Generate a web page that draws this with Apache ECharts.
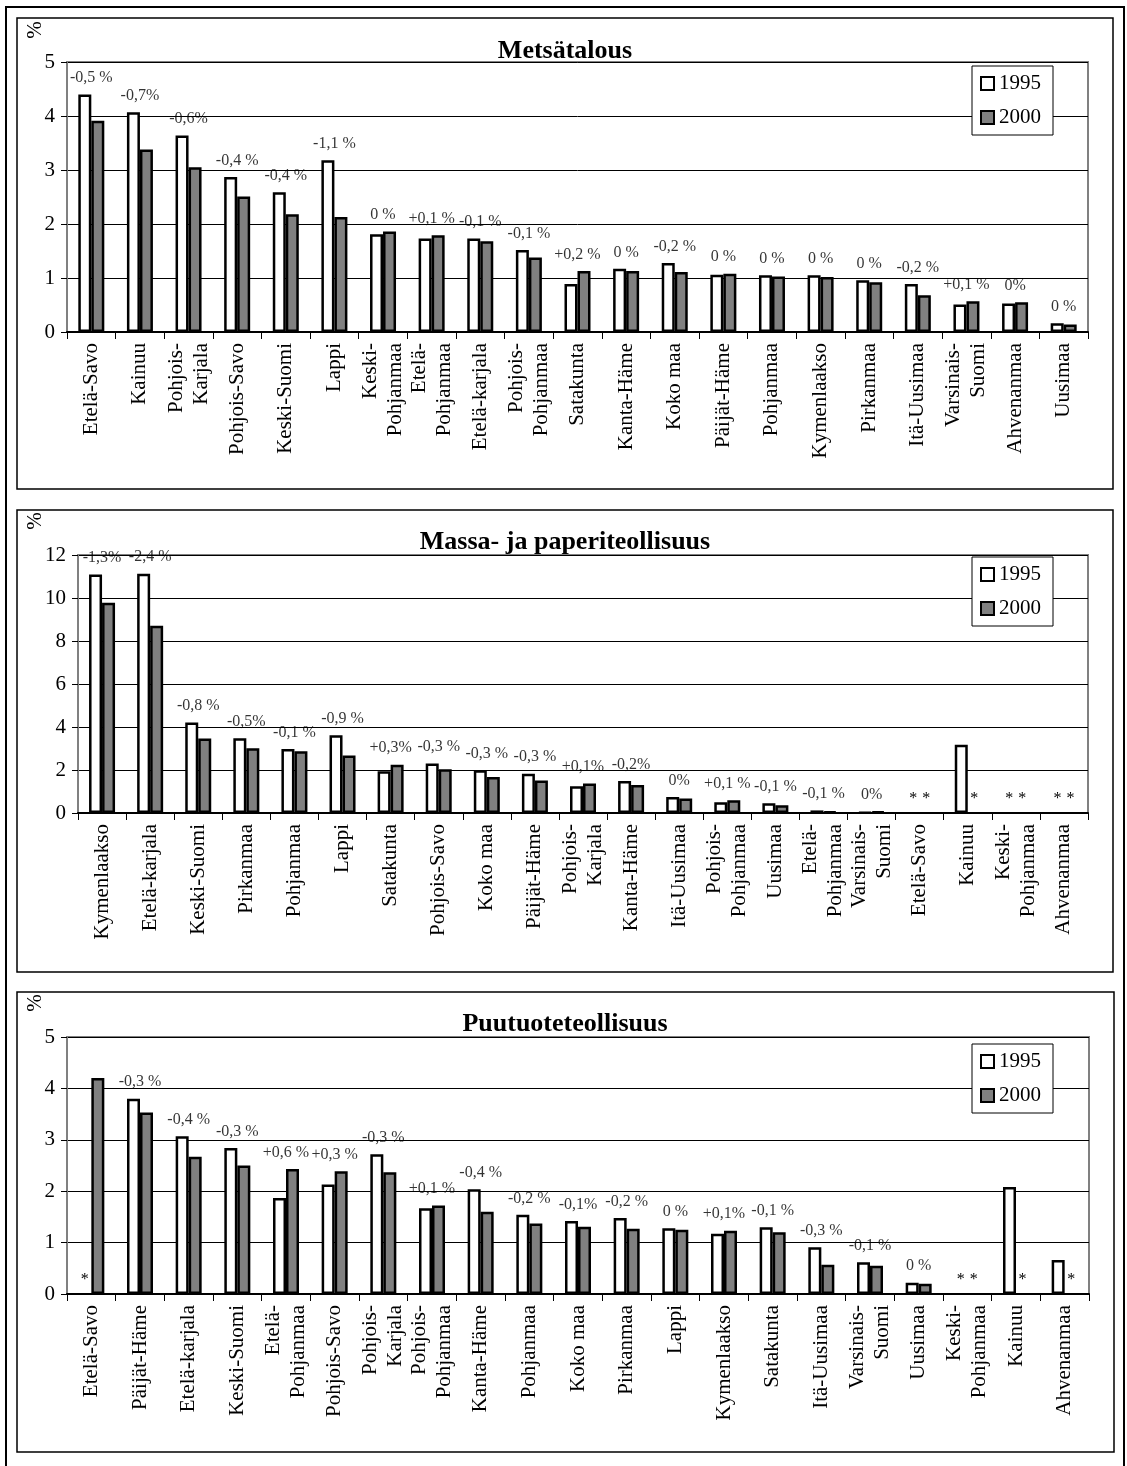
<!DOCTYPE html>
<html>
<head>
<meta charset="utf-8">
<script src="https://cdn.jsdelivr.net/npm/echarts@6/dist/echarts.min.js"></script>
<style>
html,body{margin:0;padding:0;background:#fff;}
#chart{width:1127px;height:1466px;}
</style>
</head>
<body>
<div id="chart"></div>
<script>
// ---------- DATA ----------
const titles = ['Metsätalous', 'Massa- ja paperiteollisuus', 'Puutuoteteollisuus'];
const seriesNames = ['1995', '2000'];

const cats1 = ['Etelä-Savo','Kainuu','Pohjois-\nKarjala','Pohjois-Savo','Keski-Suomi','Lappi','Keski-\nPohjanmaa','Etelä-\nPohjanmaa','Etelä-karjala','Pohjois-\nPohjanmaa','Satakunta','Kanta-Häme','Koko maa','Päijät-Häme','Pohjanmaa','Kymenlaakso','Pirkanmaa','Itä-Uusimaa','Varsinais-\nSuomi','Ahvenanmaa','Uusimaa'];
const v1995_1 = [4.40,4.07,3.64,2.87,2.59,3.18,1.81,1.73,1.73,1.52,0.89,1.17,1.28,1.06,1.05,1.05,0.96,0.89,0.51,0.53,0.16];
const v2000_1 = [3.91,3.38,3.05,2.51,2.18,2.13,1.86,1.79,1.68,1.38,1.13,1.13,1.11,1.08,1.03,1.02,0.92,0.68,0.57,0.55,0.14];
const chg1 = ['-0,5 %','-0,7%','-0,6%','-0,4 %','-0,4 %','-1,1 %','0 %','+0,1 %','-0,1 %','-0,1 %','+0,2 %','0 %','-0,2 %','0 %','0 %','0 %','0 %','-0,2 %','+0,1 %','0%','0 %'];
const yTicks1 = {min:0, max:5, interval:1};

const cats2 = ['Kymenlaakso','Etelä-karjala','Keski-Suomi','Pirkanmaa','Pohjanmaa','Lappi','Satakunta','Pohjois-Savo','Koko maa','Päijät-Häme','Pohjois-\nKarjala','Kanta-Häme','Itä-Uusimaa','Pohjois-\nPohjanmaa','Uusimaa','Etelä-\nPohjanmaa','Varsinais-\nSuomi','Etelä-Savo','Kainuu','Keski-\nPohjanmaa','Ahvenanmaa'];
const v1995_2 = [11.09,11.13,4.21,3.48,2.98,3.62,1.94,2.30,1.99,1.83,1.24,1.49,0.75,0.50,0.45,0.12,0.03,null,3.17,null,null];
const v2000_2 = [9.78,8.71,3.46,3.01,2.87,2.67,2.25,2.03,1.68,1.51,1.37,1.30,0.67,0.59,0.36,0.06,0.06,null,null,null,null];
const chg2 = ['-1,3%','-2,4 %','-0,8 %','-0,5%','-0,1 %','-0,9 %','+0,3%','-0,3 %','-0,3 %','-0,3 %','+0,1%','-0,2%','0%','+0,1 %','-0,1 %','-0,1 %','0%','','','',''];
const yTicks2 = {min:0, max:12, interval:2};

const cats3 = ['Etelä-Savo','Päijät-Häme','Etelä-karjala','Keski-Suomi','Etelä-\nPohjanmaa','Pohjois-Savo','Pohjois-\nKarjala','Pohjois-\nPohjanmaa','Kanta-Häme','Pohjanmaa','Koko maa','Pirkanmaa','Lappi','Kymenlaakso','Satakunta','Itä-Uusimaa','Varsinais-\nSuomi','Uusimaa','Keski-\nPohjanmaa','Kainuu','Ahvenanmaa'];
const v1995_3 = [null,3.80,3.07,2.84,1.87,2.13,2.72,1.67,2.04,1.54,1.42,1.48,1.28,1.17,1.30,0.91,0.62,0.22,null,2.08,0.66];
const v2000_3 = [4.20,3.53,2.67,2.50,2.43,2.39,2.37,1.72,1.60,1.37,1.31,1.27,1.25,1.23,1.20,0.57,0.55,0.20,null,null,null];
const chg3 = ['','-0,3 %','-0,4 %','-0,3 %','+0,6 %','+0,3 %','-0,3 %','+0,1 %','-0,4 %','-0,2 %','-0,1%','-0,2 %','0 %','+0,1%','-0,1 %','-0,3 %','-0,1 %','0 %','','',''];
const yTicks3 = {min:0, max:5, interval:1};

const missingMark = '*';

// ---------- LAYOUT ----------
const FONT = 'Liberation Serif';
const panels = [
  {cats:cats1, a:v1995_1, b:v2000_1, chg:chg1, y:yTicks1,
   grid:{left:67, top:62, width:1021, height:270}, box:[17,18,1096,471], titleTop:38, legendTop:66, pctY:30},
  {cats:cats2, a:v1995_2, b:v2000_2, chg:chg2, y:yTicks2,
   grid:{left:78, top:555, width:1010, height:258}, box:[17,510,1096,462], titleTop:529, legendTop:557, pctY:521},
  {cats:cats3, a:v1995_3, b:v2000_3, chg:chg3, y:yTicks3,
   grid:{left:67, top:1037, width:1022, height:257}, box:[17,992,1097,460], titleTop:1011, legendTop:1044, pctY:1003}
];

const grids = [], xAxes = [], yAxes = [], series = [], titleArr = [], legends = [], graphics = [];

function barData(arr){
  return arr.map(v => v == null
    ? {value:0, itemStyle:{color:'rgba(0,0,0,0)', borderWidth:0},
       label:{show:true, formatter:missingMark, position:'top', distance:6, fontSize:16, fontFamily:FONT, color:'#000'}}
    : v);
}

graphics.push({type:'rect', shape:{x:6, y:7, width:1118, height:1470}, style:{fill:'none', stroke:'#000', lineWidth:2}, silent:true});

panels.forEach((p, i) => {
  grids.push(Object.assign({show:true, borderColor:'#808080', borderWidth:2, backgroundColor:'#fff'}, p.grid));
  xAxes.push({
    type:'category', gridIndex:i, data:p.cats, boundaryGap:true,
    axisLine:{lineStyle:{color:'#000', width:2}},
    axisTick:{show:true, length:7, lineStyle:{color:'#000', width:1}},
    axisLabel:{interval:0, rotate:90, fontSize:21, lineHeight:25, margin:11, fontFamily:FONT, color:'#000'}
  });
  yAxes.push({
    type:'value', gridIndex:i, min:p.y.min, max:p.y.max, interval:p.y.interval,
    axisLine:{show:true, lineStyle:{color:'#808080', width:2}},
    axisTick:{show:true, length:6, lineStyle:{color:'#000', width:1}},
    axisLabel:{fontSize:21, margin:12, fontFamily:FONT, color:'#000'},
    splitLine:{show:true, lineStyle:{color:'#000', width:1}}
  });
  series.push({
    name:seriesNames[0], type:'bar', xAxisIndex:i, yAxisIndex:i, data:barData(p.a),
    barWidth:13, barGap:'0%', itemStyle:{color:'#fff', borderColor:'#000', borderWidth:2.5}, silent:true
  });
  series.push({
    name:seriesNames[1], type:'bar', xAxisIndex:i, yAxisIndex:i, data:barData(p.b),
    barWidth:13, barGap:'0%', itemStyle:{color:'#808080', borderColor:'#000', borderWidth:2.5}, silent:true
  });
  series.push({
    type:'scatter', xAxisIndex:i, yAxisIndex:i, symbolSize:1, silent:true,
    itemStyle:{color:'rgba(0,0,0,0)'},
    data:p.cats.map((c, k) => {
      const m = Math.max(p.a[k] == null ? 0 : p.a[k], p.b[k] == null ? 0 : p.b[k]);
      return {value:[k, m], label:{formatter:p.chg[k]}};
    }),
    label:{show:true, position:'top', distance:8, fontSize:16, fontFamily:FONT, color:'#000'}
  });
  titleArr.push({
    text:titles[i], left:565, top:p.titleTop, textAlign:'center', padding:0,
    textStyle:{fontSize:26, fontWeight:'bold', fontFamily:FONT, color:'#000'}
  });
  legends.push({
    data:seriesNames, orient:'vertical', left:972, top:p.legendTop,
    icon:'rect', itemWidth:13, itemHeight:13, itemGap:13, itemTextGap:5,
    padding:[7,12,7,8], backgroundColor:'#fff', borderColor:'#000', borderWidth:1,
    selectedMode:false,
    itemStyle:{borderColor:'#000', borderWidth:2},
    textStyle:{fontSize:21, fontFamily:FONT, color:'#000'}
  });
  graphics.push({type:'rect', shape:{x:p.box[0], y:p.box[1], width:p.box[2], height:p.box[3]},
    style:{fill:'none', stroke:'#000', lineWidth:1.5}, silent:true, z:100});
  graphics.push({type:'text', x:35, y:p.pctY, rotation:Math.PI/2,
    style:{text:'%', fontSize:21, fontFamily:FONT, fill:'#000', textAlign:'center', textVerticalAlign:'middle'}, silent:true});
});

const chart = echarts.init(document.getElementById('chart'), null, {renderer:'canvas'});
chart.setOption({
  animation:false,
  backgroundColor:'#fff',
  title:titleArr,
  legend:legends,
  grid:grids,
  xAxis:xAxes,
  yAxis:yAxes,
  series:series,
  graphic:graphics
});
</script>
</body>
</html>
